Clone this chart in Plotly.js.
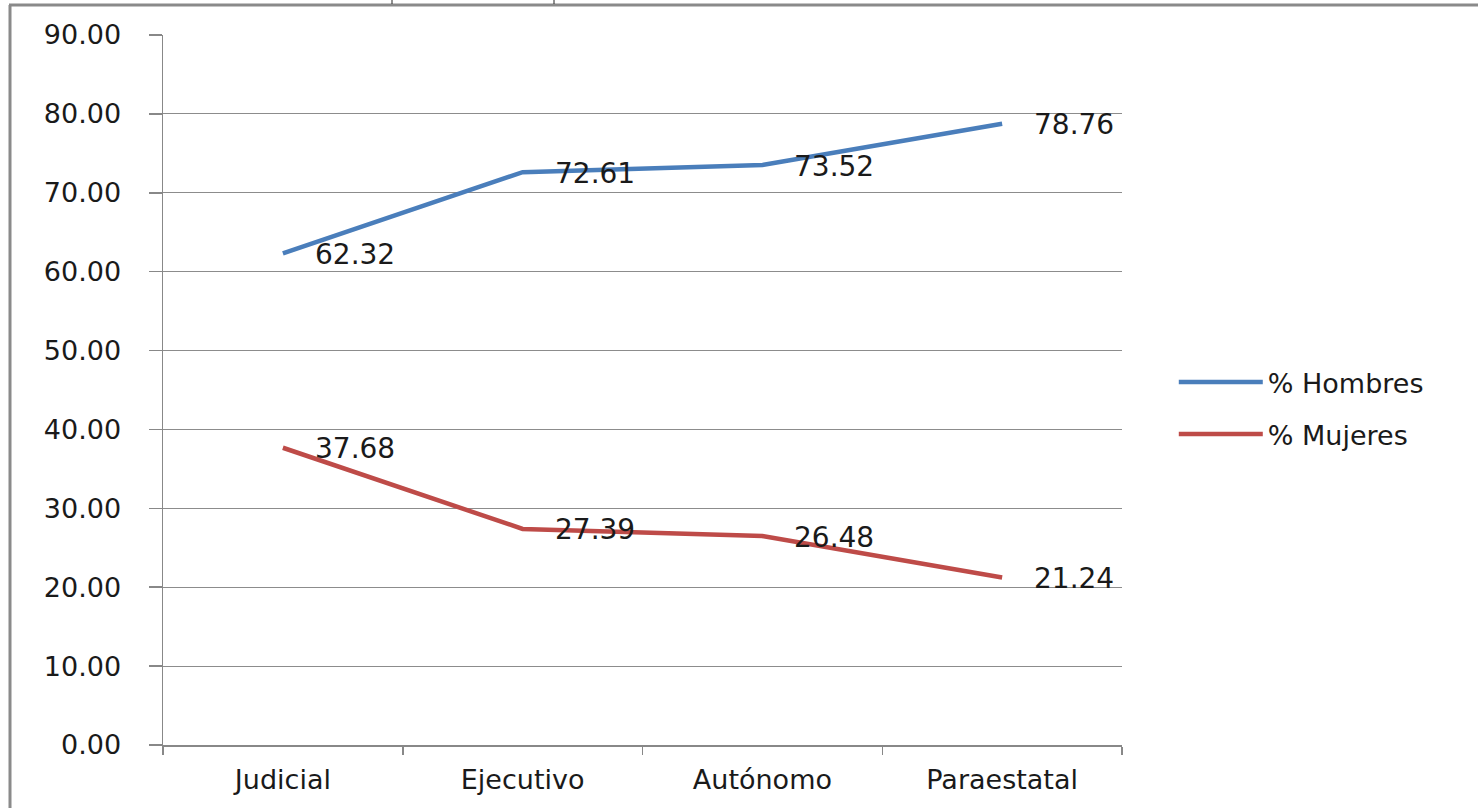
<!DOCTYPE html>
<html>
<head>
<meta charset="utf-8">
<script src="https://cdn.plot.ly/plotly-3.0.1.min.js"></script>
<style>
html,body{margin:0;padding:0;background:#fff;}
#chart{width:1478px;height:808px;}
</style>
</head>
<body>
<div id="chart"></div>
<script>
var categories = ["Judicial", "Ejecutivo", "Autónomo", "Paraestatal"];
var hombres = [62.32, 72.61, 73.52, 78.76];
var mujeres = [37.68, 27.39, 26.48, 21.24];
var seriesNames = ["% Hombres", "% Mujeres"];
var yTicks = [0, 10, 20, 30, 40, 50, 60, 70, 80, 90];

var FONT = "DejaVu Sans, Verdana, sans-serif";
var TXT = "#1a1a1a";
var blue = "#4A7EBB";
var red = "#BE4B48";

var traces = [
  {x: categories, y: hombres, name: seriesNames[0], legendgroup: "h", type: "scatter", mode: "lines",
   line: {color: blue, width: 4.5}},
  {x: categories, y: mujeres, name: seriesNames[1], legendgroup: "m", type: "scatter", mode: "lines",
   line: {color: red, width: 4.5}}
];

var annotations = [];
[hombres, mujeres].forEach(function(arr){
  arr.forEach(function(v, i){
    annotations.push({x: categories[i], y: v, xref: "x", yref: "y",
      text: v.toFixed(2), showarrow: false, xanchor: "left", yanchor: "middle",
      xshift: 30, yshift: -1, font: {family: FONT, size: 28, color: TXT}});
  });
});

var W = 1478, H = 808, L = 163, R = 1122, T = 35, B = 745;
function px(x){ return (x - L) / (R - L); }
function py(y){ return (B - y) / (B - T); }

var shapes = [
  {type: "line", xref: "paper", yref: "paper", x0: px(10), x1: px(10), y0: py(808), y1: py(5),
   line: {color: "#8a8a8a", width: 3}},
  {type: "line", xref: "paper", yref: "paper", x0: px(9), x1: px(1478), y0: py(5), y1: py(5),
   line: {color: "#8a8a8a", width: 3}},
  {type: "line", xref: "paper", yref: "paper", x0: px(392), x1: px(392), y0: py(4), y1: py(0),
   line: {color: "#222", width: 1}},
  {type: "line", xref: "paper", yref: "paper", x0: px(554), x1: px(554), y0: py(4), y1: py(0),
   line: {color: "#222", width: 1}}
];

var layout = {
  width: W, height: H,
  margin: {l: L, r: W - R, t: T, b: H - B, pad: 0},
  paper_bgcolor: "#fff", plot_bgcolor: "#fff",
  showlegend: true,
  legend: {x: 1.054, y: 0.474, xanchor: "left", yanchor: "middle", traceorder: "grouped",
    font: {family: FONT, size: 27, color: TXT}, itemwidth: 84, tracegroupgap: 14,
    bgcolor: "rgba(0,0,0,0)"},
  xaxis: {type: "category", range: [-0.5, 3.5], tickson: "boundaries",
    ticks: "outside", ticklen: 8, tickcolor: "#888", tickwidth: 1.5,
    showline: true, linecolor: "#888", linewidth: 1.5, showgrid: false,
    ticklabelstandoff: 10,
    tickfont: {family: FONT, size: 27, color: TXT}, fixedrange: true},
  yaxis: {range: [0, 90], tickvals: yTicks, ticktext: yTicks.map(function(v){return v.toFixed(2);}),
    ticks: "outside", ticklen: 13, tickcolor: "#888", tickwidth: 1.5,
    showline: true, linecolor: "#888", linewidth: 1.5,
    showgrid: true, gridcolor: "#8c8c8c", gridwidth: 1.2, zeroline: false,
    ticklabelstandoff: 22,
    tickfont: {family: FONT, size: 27, color: TXT}, fixedrange: true},
  annotations: annotations,
  shapes: shapes
};

Plotly.newPlot("chart", traces, layout, {displayModeBar: false, staticPlot: true});
</script>
</body>
</html>
